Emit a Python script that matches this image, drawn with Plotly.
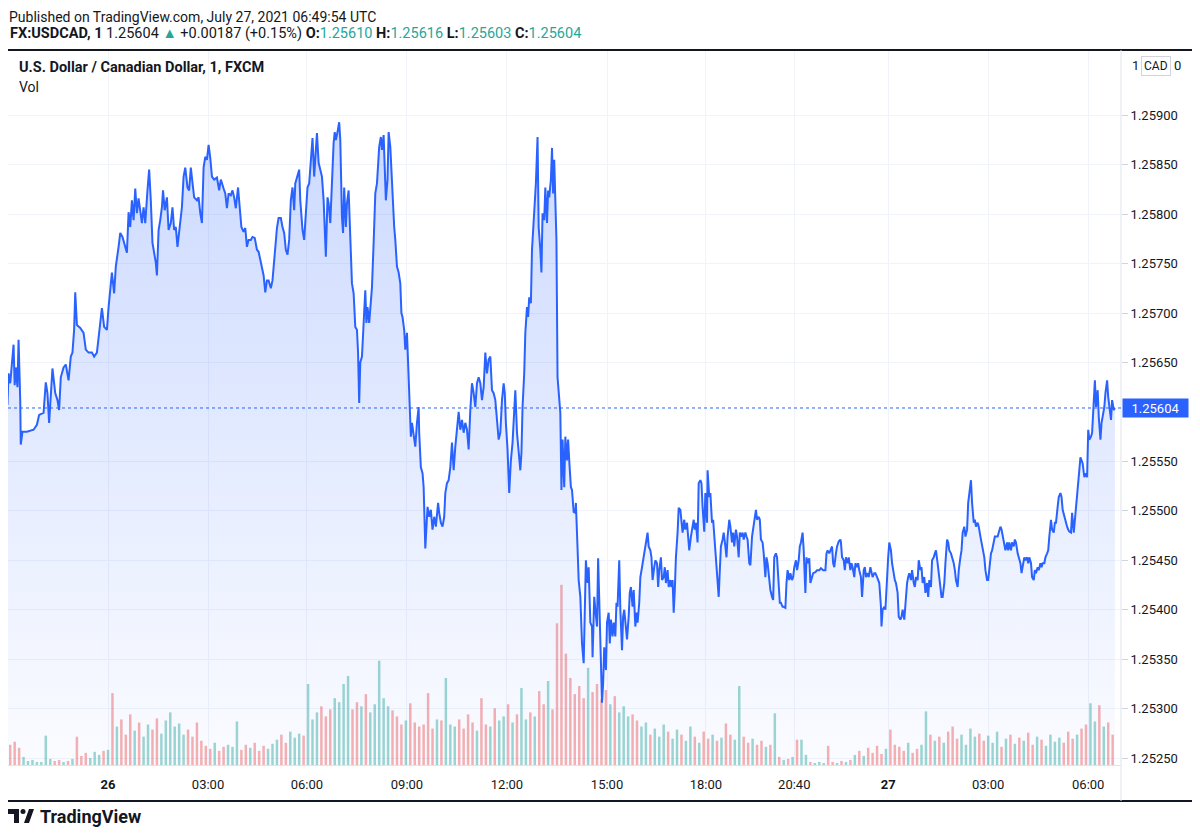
import numpy as np
import plotly.graph_objects as go

# ── Colours (TradingView light theme) ─────────────────────────────
LINE_BLUE = "#2962FF"
TEXT = "#131722"
GRID = "#f0f3fa"
AXIS = "#e0e3eb"
UP = "rgba(38,166,154,0.45)"
DOWN = "rgba(239,83,80,0.45)"
TEAL = "#26a69a"

# ── Data: 1-minute USDCAD, bar index = minutes from 26 Jul 00:00 ───
price_bar = [
    -181, -179, -176, -173, -170, -168, -166, -163, -161, -158,
    -157, -154, -146, -134, -128, -124, -116, -112, -109, -106,
    -103, -100, -95, -91, -88, -85, -80, -76, -71, -67,
    -64, -61, -59, -56, -50, -44, -40, -35, -29, -25,
    -20, -16, -11, -7, -2, 1, 4, 7, 11, 14,
    19, 22, 26, 31, 34, 37, 40, 43, 46, 49,
    52, 55, 58, 61, 64, 67, 71, 74, 77, 80,
    83, 86, 88, 91, 94, 97, 99, 102, 106, 109,
    113, 116, 119, 122, 125, 128, 133, 136, 139, 143,
    146, 149, 152, 155, 160, 163, 166, 169, 172, 175,
    178, 181, 184, 187, 191, 196, 200, 203, 208, 211,
    214, 217, 221, 224, 227, 230, 234, 236, 240, 244,
    247, 250, 253, 257, 260, 264, 268, 271, 274, 277,
    280, 283, 286, 289, 293, 296, 300, 304, 307, 311,
    314, 317, 320, 323, 326, 329, 332, 335, 337, 341,
    344,
    346, 350, 353, 356, 359, 362, 366, 368, 371, 373,
    376, 379, 382, 385, 388, 390, 392, 395, 397, 400,
    403, 406, 408, 410, 413, 416, 418, 421, 423, 425,
    428, 430, 433, 436, 439, 442, 445, 448, 450, 452,
    454, 457, 460, 463, 465, 467, 470, 473, 475, 478,
    481, 484, 486, 488, 491, 493, 496, 498, 500, 503,
    505, 508, 510, 512, 515, 517, 520, 523, 526, 528,
    530, 533, 535, 538, 540, 542, 545, 547, 550, 553,
    556, 559, 560, 563, 566, 568, 571, 573, 575, 578,
    581, 584, 587, 590, 594, 596, 599, 602, 605, 607,
    610, 613, 616, 619, 622, 625, 628, 631, 634, 637,
    640, 643, 646, 649, 652, 655, 658, 661, 664, 667,
    670, 673, 676, 679, 682, 685, 688, 691, 694, 697,
    700, 703, 706, 709, 712, 714, 716, 719, 722, 725,
    728, 731, 733, 736, 739, 742, 744, 746, 749, 751,
    754, 756, 758, 761, 763, 766, 768, 770, 773, 775,
    778, 780, 782, 785, 787, 790, 792, 794, 797, 799,
    801, 803, 805, 807, 809, 811, 814, 816, 818, 821,
    823, 826, 828, 830, 833, 835, 838, 841, 842, 845,
    847, 850, 853, 856, 858, 860, 863, 865, 868, 871,
    872, 875, 877, 880, 882, 884, 887, 889, 891, 893,
    896, 898, 901, 903, 905, 908, 910, 913, 915, 917,
    920, 922, 925, 927, 929, 932, 934, 937, 939, 941,
    944, 946, 949, 951, 953, 956, 958, 961, 963, 966,
    968, 971, 973, 976, 978, 980, 983, 985, 988, 990,
    992, 995, 997, 1000, 1002, 1004, 1007, 1009, 1012, 1014,
    1016, 1018, 1020, 1022, 1025, 1027, 1030, 1032, 1034, 1037,
    1039, 1042, 1044, 1046, 1049, 1051, 1054, 1056, 1058, 1061,
    1063, 1066, 1068, 1070, 1073, 1075, 1078, 1079, 1082, 1084,
    1087, 1089, 1091, 1094, 1096, 1099, 1101, 1103, 1106, 1108,
    1111, 1113, 1115, 1118, 1120, 1123, 1125, 1127, 1130, 1132,
    1135, 1137, 1139, 1142, 1144, 1147, 1149, 1151, 1154, 1156,
    1159, 1161, 1163, 1166, 1168, 1171, 1173, 1175, 1178, 1180,
    1183, 1185, 1187, 1190, 1192, 1195, 1197, 1199, 1202, 1204,
    1207, 1209, 1211, 1214, 1216, 1219, 1221, 1223, 1226, 1228,
    1231, 1233, 1235, 1238, 1240, 1243, 1245, 1247, 1250, 1252,
    1255, 1257, 1259, 1262, 1264, 1267, 1269, 1273, 1276, 1280,
    1283, 1287, 1291, 1293, 1295, 1298, 1300, 1303, 1305, 1307,
    1310, 1312, 1315, 1318,
    1319, 1321, 1324, 1326, 1328, 1331, 1333, 1336, 1338, 1340,
    1343, 1345, 1348, 1350, 1352, 1355, 1357, 1360, 1362, 1364,
    1367, 1369, 1372, 1374, 1376, 1379, 1381, 1384, 1386, 1388,
    1391, 1392, 1394, 1397, 1399, 1402, 1404, 1406, 1409, 1411,
    1414, 1416, 1418, 1421, 1423, 1426, 1428, 1430, 1433, 1435,
    1438, 1440, 1442, 1445, 1447, 1450, 1452, 1454, 1457, 1459,
    1462, 1464, 1466, 1469, 1471, 1474, 1476, 1478, 1481, 1483,
    1486, 1488, 1490, 1493, 1495, 1498, 1500, 1502, 1505, 1507,
    1510, 1512, 1514, 1517, 1519, 1522, 1524, 1526, 1529, 1531,
    1534, 1536, 1538, 1541, 1543, 1546, 1548, 1550, 1553, 1555,
    1558, 1560, 1562, 1565, 1567, 1570, 1572, 1574, 1577, 1579,
    1582, 1584, 1586, 1589, 1591, 1594, 1596, 1598, 1601, 1603,
    1606, 1608, 1610, 1613, 1615, 1618, 1620, 1622, 1625, 1627,
    1630, 1632, 1634, 1637, 1639, 1642, 1644, 1646, 1649, 1651,
    1654, 1656, 1658, 1661, 1663, 1666, 1668, 1670, 1673, 1675,
    1678, 1680, 1682, 1685, 1687, 1690, 1692, 1694, 1697, 1699,
    1702, 1704, 1706, 1709, 1711, 1714, 1716, 1718, 1721, 1723,
    1726, 1728, 1730, 1733, 1735, 1738, 1740, 1742, 1745, 1747,
    1750, 1752, 1754, 1757, 1759, 1762, 1764, 1766, 1769, 1771,
    1774, 1776, 1778, 1781, 1783, 1786, 1788, 1790, 1793, 1795,
    1798, 1800, 1802, 1805, 1807, 1810, 1812,
]

price_close = [
    1.25607, 1.25639, 1.25629, 1.25645, 1.25668, 1.25627, 1.25645, 1.25625, 1.25673, 1.25612,
    1.25567, 1.25580, 1.25580, 1.25582, 1.25587, 1.25597, 1.25599, 1.25630, 1.25619, 1.25589,
    1.25619, 1.25644, 1.25619, 1.25612, 1.25602, 1.25635, 1.25645, 1.25648, 1.25632, 1.25656,
    1.25660, 1.25683, 1.25721, 1.25688, 1.25685, 1.25680, 1.25663, 1.25660, 1.25660, 1.25656,
    1.25660, 1.25683, 1.25705, 1.25686, 1.25683, 1.25706, 1.25726, 1.25741, 1.25720, 1.25747,
    1.25767, 1.25781, 1.25777, 1.25767, 1.25761, 1.25802, 1.25787, 1.25814, 1.25794, 1.25826,
    1.25801, 1.25816, 1.25801, 1.25791, 1.25807, 1.25791, 1.25824, 1.25845, 1.25814, 1.25771,
    1.25761, 1.25751, 1.25738, 1.25784, 1.25794, 1.25807, 1.25824, 1.25804, 1.25817, 1.25784,
    1.25791, 1.25807, 1.25784, 1.25787, 1.25767, 1.25781, 1.25807, 1.25838, 1.25847, 1.25827,
    1.25824, 1.25847, 1.25831, 1.25817, 1.25814, 1.25817, 1.25801, 1.25791, 1.25847, 1.25858,
    1.25855, 1.25870, 1.25857, 1.25838, 1.25835, 1.25837, 1.25824, 1.25835, 1.25826, 1.25821,
    1.25806, 1.25821, 1.25819, 1.25824, 1.25817, 1.25806, 1.25827, 1.25814, 1.25787, 1.25782,
    1.25786, 1.25767, 1.25774, 1.25774, 1.25777, 1.25776, 1.25764, 1.25762, 1.25754, 1.25744,
    1.25738, 1.25721, 1.25733, 1.25733, 1.25725, 1.25733, 1.25764, 1.25786, 1.25796, 1.25796,
    1.25787, 1.25781, 1.25764, 1.25759, 1.25774, 1.25814, 1.25827, 1.25804, 1.25831, 1.25838,
    1.25845,
    1.25814, 1.25784, 1.25774, 1.25801, 1.25827, 1.25831, 1.25865, 1.25877, 1.25838, 1.25855,
    1.25882, 1.25852, 1.25845, 1.25838, 1.25814, 1.25781, 1.25757, 1.25817, 1.25811, 1.25791,
    1.25838, 1.25872, 1.25883, 1.25875, 1.25883, 1.25893, 1.25875, 1.25797, 1.25781, 1.25827,
    1.25787, 1.25811, 1.25824, 1.25767, 1.25730, 1.25720, 1.25686, 1.25683, 1.25660, 1.25609,
    1.25650, 1.25656, 1.25696, 1.25723, 1.25690, 1.25706, 1.25690, 1.25716, 1.25726, 1.25771,
    1.25821, 1.25831, 1.25855, 1.25868, 1.25878, 1.25865, 1.25880, 1.25842, 1.25814, 1.25835,
    1.25883, 1.25868, 1.25842, 1.25814, 1.25787, 1.25774, 1.25747, 1.25741, 1.25730, 1.25700,
    1.25696, 1.25683, 1.25663, 1.25680, 1.25653, 1.25612, 1.25575, 1.25589, 1.25575, 1.25565,
    1.25589, 1.25605, 1.25579, 1.25544, 1.25538, 1.25524, 1.25462, 1.25488, 1.25504, 1.25494,
    1.25501, 1.25481, 1.25494, 1.25484, 1.25508, 1.25498, 1.25488, 1.25484, 1.25494, 1.25518,
    1.25528, 1.25531, 1.25544, 1.25569, 1.25541, 1.25565, 1.25582, 1.25600, 1.25582, 1.25592,
    1.25579, 1.25589, 1.25582, 1.25562, 1.25602, 1.25629, 1.25619, 1.25605, 1.25629, 1.25635,
    1.25629, 1.25612, 1.25625, 1.25660, 1.25639, 1.25653, 1.25656, 1.25622, 1.25619, 1.25612,
    1.25592, 1.25572, 1.25579, 1.25612, 1.25629, 1.25619, 1.25589, 1.25562, 1.25518, 1.25551,
    1.25569, 1.25595, 1.25622, 1.25579, 1.25559, 1.25541, 1.25559, 1.25605, 1.25639, 1.25680,
    1.25706, 1.25696, 1.25716, 1.25710, 1.25764, 1.25794, 1.25801, 1.25831, 1.25878, 1.25787,
    1.25764, 1.25741, 1.25801, 1.25794, 1.25827, 1.25791, 1.25824, 1.25817, 1.25835, 1.25867,
    1.25821, 1.25855, 1.25814, 1.25774, 1.25635, 1.25622, 1.25599, 1.25521, 1.25572, 1.25524,
    1.25575, 1.25551, 1.25572, 1.25551, 1.25524, 1.25521, 1.25499, 1.25498, 1.25508, 1.25462,
    1.25430, 1.25413, 1.25366, 1.25346, 1.25393, 1.25450, 1.25427, 1.25443, 1.25387, 1.25383,
    1.25352, 1.25413, 1.25400, 1.25383, 1.25452, 1.25407, 1.25359, 1.25306, 1.25326, 1.25362,
    1.25339, 1.25387, 1.25397, 1.25366, 1.25390, 1.25373, 1.25387, 1.25373, 1.25407, 1.25403,
    1.25450, 1.25400, 1.25359, 1.25393, 1.25400, 1.25383, 1.25370, 1.25393, 1.25417, 1.25423,
    1.25403, 1.25420, 1.25383, 1.25397, 1.25387, 1.25407, 1.25433, 1.25443, 1.25450, 1.25457,
    1.25468, 1.25478, 1.25464, 1.25460, 1.25453, 1.25430, 1.25443, 1.25450, 1.25447, 1.25423,
    1.25440, 1.25453, 1.25430, 1.25433, 1.25443, 1.25427, 1.25440, 1.25423, 1.25430, 1.25423,
    1.25430, 1.25397, 1.25420, 1.25453, 1.25478, 1.25503, 1.25501, 1.25488, 1.25478, 1.25491,
    1.25481, 1.25488, 1.25468, 1.25460, 1.25474, 1.25481, 1.25491, 1.25481, 1.25488, 1.25468,
    1.25528, 1.25531, 1.25528, 1.25504, 1.25479, 1.25518, 1.25488, 1.25541, 1.25514, 1.25518,
    1.25488, 1.25491, 1.25474, 1.25453, 1.25433, 1.25413, 1.25440, 1.25464, 1.25471, 1.25478,
    1.25464, 1.25453, 1.25474, 1.25491, 1.25484, 1.25468, 1.25478, 1.25464, 1.25481, 1.25474,
    1.25453, 1.25478, 1.25474, 1.25478, 1.25471, 1.25478, 1.25474, 1.25471, 1.25447, 1.25445,
    1.25474, 1.25481, 1.25491, 1.25501, 1.25491, 1.25494, 1.25491, 1.25471, 1.25468, 1.25457,
    1.25433, 1.25453, 1.25447, 1.25430, 1.25420, 1.25413, 1.25410, 1.25453, 1.25457, 1.25453,
    1.25420, 1.25407, 1.25407, 1.25403, 1.25403, 1.25402, 1.25427, 1.25440, 1.25430, 1.25437,
    1.25430, 1.25433, 1.25443, 1.25450, 1.25440, 1.25450, 1.25464, 1.25468, 1.25478, 1.25460,
    1.25417, 1.25453, 1.25447, 1.25452, 1.25427, 1.25433, 1.25437, 1.25438, 1.25440, 1.25440,
    1.25442, 1.25440, 1.25440, 1.25457, 1.25460, 1.25457, 1.25460, 1.25464, 1.25447, 1.25443,
    1.25457, 1.25464, 1.25469, 1.25471,
    1.25468, 1.25453, 1.25450, 1.25440, 1.25453, 1.25447, 1.25453, 1.25440, 1.25447, 1.25443,
    1.25433, 1.25447, 1.25443, 1.25447, 1.25440, 1.25433, 1.25413, 1.25440, 1.25443, 1.25433,
    1.25437, 1.25433, 1.25443, 1.25437, 1.25433, 1.25437, 1.25437, 1.25433, 1.25430, 1.25427,
    1.25403, 1.25383, 1.25400, 1.25403, 1.25400, 1.25437, 1.25453, 1.25468, 1.25460, 1.25447,
    1.25433, 1.25430, 1.25427, 1.25417, 1.25393, 1.25390, 1.25393, 1.25400, 1.25390, 1.25407,
    1.25427, 1.25433, 1.25437, 1.25430, 1.25440, 1.25427, 1.25423, 1.25433, 1.25430, 1.25450,
    1.25440, 1.25443, 1.25427, 1.25433, 1.25417, 1.25427, 1.25413, 1.25430, 1.25423, 1.25450,
    1.25453, 1.25457, 1.25460, 1.25447, 1.25437, 1.25427, 1.25413, 1.25413, 1.25427, 1.25447,
    1.25471, 1.25468, 1.25460, 1.25457, 1.25453, 1.25447, 1.25440, 1.25430, 1.25423, 1.25440,
    1.25453, 1.25460, 1.25478, 1.25484, 1.25474, 1.25481, 1.25508, 1.25518, 1.25531, 1.25508,
    1.25488, 1.25491, 1.25484, 1.25488, 1.25484, 1.25474, 1.25468, 1.25464, 1.25453, 1.25440,
    1.25430, 1.25430, 1.25443, 1.25457, 1.25460, 1.25468, 1.25474, 1.25474, 1.25474, 1.25478,
    1.25484, 1.25481, 1.25474, 1.25468, 1.25460, 1.25468, 1.25460, 1.25468, 1.25460, 1.25468,
    1.25464, 1.25471, 1.25468, 1.25457, 1.25453, 1.25447, 1.25437, 1.25443, 1.25453, 1.25450,
    1.25453, 1.25447, 1.25453, 1.25447, 1.25433, 1.25430, 1.25440, 1.25437, 1.25443, 1.25440,
    1.25447, 1.25443, 1.25447, 1.25447, 1.25453, 1.25457, 1.25460, 1.25474, 1.25491, 1.25481,
    1.25478, 1.25488, 1.25488, 1.25504, 1.25514, 1.25518, 1.25514, 1.25501, 1.25494, 1.25488,
    1.25484, 1.25481, 1.25479, 1.25478, 1.25498, 1.25478, 1.25491, 1.25501, 1.25524, 1.25534,
    1.25554, 1.25551, 1.25548, 1.25534, 1.25538, 1.25534, 1.25582, 1.25572, 1.25575, 1.25579,
    1.25605, 1.25632, 1.25605, 1.25622, 1.25595, 1.25572, 1.25589, 1.25595, 1.25605, 1.25619,
    1.25632, 1.25615, 1.25605, 1.25592, 1.25612, 1.25602, 1.25604,
]

# tick volume, one bar every 8 minutes from bar -176
vol_start = -176
vol_step = 8
volume = [
    20, 23, 17, 8, 4, 5, 3, 3, 29, 6,
    4, 5, 3, 4, 6, 28, 9, 12, 7, 13,
    10, 14, 15, 71, 38, 45, 30, 50, 34, 42,
    28, 40, 35, 46, 31, 44, 52, 38, 41, 30,
    35, 28, 42, 24, 19, 16, 22, 14, 18, 20,
    18, 43, 15, 20, 17, 22, 14, 19, 16, 21,
    25, 30, 22, 33, 27, 31, 29, 80, 45, 52,
    58, 48, 55, 66, 62, 80, 88, 55, 62, 58,
    70, 52, 60, 103, 66, 58, 54, 48, 40, 44,
    61, 42, 38, 40, 71, 36, 45, 44, 86, 40,
    38, 45, 36, 50, 42, 34, 66, 40, 38, 56,
    44, 48, 60, 42, 50, 76, 45, 52, 48, 73,
    60, 83, 55, 140, 178, 110, 86, 70, 78, 66,
    96, 72, 80, 65, 74, 60, 68, 52, 58, 48,
    50, 44, 38, 42, 30, 36, 28, 40, 33, 26,
    35, 30, 24, 38, 28, 22, 33, 26, 30, 24,
    27, 41, 30, 25, 78, 28, 22, 26, 20, 24,
    18, 20, 51, 8, 5, 6, 8, 25, 25, 10,
    3, 2, 3, 2, 19, 3, 2, 4, 3, 5,
    10, 14, 9, 17, 12, 19, 11, 16, 35, 20,
    18, 14, 22, 12, 16, 20, 53, 30, 24, 28,
    22, 33, 38, 26, 30, 20, 36, 28, 31, 24,
    29, 22, 33, 18, 26, 30, 21, 27, 24, 32,
    20, 28, 25, 19, 30, 23, 27, 22, 33, 26,
    30, 36, 40, 61, 43, 59, 38, 42, 30,
]

tick_bars = [0, 180, 358, 538, 718, 898, 1076, 1235, 1404, 1584, 1764]
tick_text = ["<b>26</b>", "03:00", "06:00", "09:00", "12:00", "15:00",
             "18:00", "20:40", "<b>27</b>", "03:00", "06:00"]

# price scale labels (1.25600 sits under the last-price tag, 1.25950 under the CAD badge)
price_ticks = [1.2525, 1.2530, 1.2535, 1.2540, 1.2545, 1.2550, 1.2555,
               1.2565, 1.2570, 1.2575, 1.2580, 1.2585, 1.2590]

last_price = 1.25604
x_range = [-180, 1823]
price_range = [1.25243, 1.25966]

# ── Page geometry (reference pixels; the page body adds an 8px offset) ─
OFF = 8
W, H = 1200 - OFF, 837 - 2 * OFF
L, R, T, B = 8 - OFF, 1200 - 1121, 50 - OFF, (837 - 765) - OFF
PW, PH = W - L - R, H - T - B


def px(x):
    return (x - OFF - L) / PW


def py(y):
    return (H - B - (y - OFF)) / PH


# volume colours follow the price move into each bar
vol_x = vol_start + vol_step * np.arange(len(volume))
pb = np.array(price_bar)
pc = np.array(price_close)
idx = np.clip(np.searchsorted(pb, vol_x), 1, len(pb) - 1)
vol_colors = [UP if pc[i] >= pc[i - 1] else DOWN for i in idx]

fig = go.Figure()

fig.add_trace(go.Bar(
    x=vol_x, y=volume, width=4.5,
    marker=dict(color=vol_colors, line=dict(width=0)),
    hoverinfo="skip", showlegend=False,
))

# baseline for the area fill
fig.add_trace(go.Scatter(
    x=[price_bar[0], price_bar[-1]], y=[price_range[0]] * 2,
    mode="lines", line=dict(width=0), yaxis="y2",
    hoverinfo="skip", showlegend=False,
))

fig.add_trace(go.Scatter(
    x=price_bar, y=price_close, mode="lines", yaxis="y2",
    line=dict(color=LINE_BLUE, width=2),
    fill="tonexty",
    fillgradient=dict(
        type="vertical",
        colorscale=[[0, "rgba(41,98,255,0.02)"], [1, "rgba(41,98,255,0.24)"]],
        start=price_range[0], stop=1.2590,
    ),
    showlegend=False,
))

annotations = [
    dict(x=px(8), y=py(8), xref="paper", yref="paper", xanchor="left", yanchor="top",
         showarrow=False, borderpad=0,
         text="Published on TradingView.com, July 27, 2021 06:49:54 UTC",
         font=dict(size=14, color=TEXT)),
    dict(x=px(8), y=py(34), xref="paper", yref="paper", xanchor="left", yanchor="middle",
         showarrow=False,
         text=(f"<b>FX:USDCAD, 1</b> 1.25604 <span style='color:{TEAL}'>▲</span> +0.00187 (+0.15%) "
               f"<b>O:</b><span style='color:{TEAL}'>1.25610</span> "
               f"<b>H:</b><span style='color:{TEAL}'>1.25616</span> "
               f"<b>L:</b><span style='color:{TEAL}'>1.25603</span> "
               f"<b>C:</b><span style='color:{TEAL}'>1.25604</span>"),
         font=dict(size=14.5, color=TEXT)),
    dict(x=px(17), y=py(68), xref="paper", yref="paper", xanchor="left", yanchor="middle",
         showarrow=False, text="<b>U.S. Dollar / Canadian Dollar, 1, FXCM</b>",
         font=dict(size=14.5, color=TEXT)),
    dict(x=px(17), y=py(87), xref="paper", yref="paper", xanchor="left", yanchor="middle",
         showarrow=False, text="Vol", font=dict(size=14, color=TEXT)),
    # top of the price scale: "1 [CAD] 0"
    dict(x=px(1131), y=1.2595, xref="paper", yref="y2", xanchor="left", yanchor="middle",
         showarrow=False, text="1", borderpad=0, font=dict(size=13, color=TEXT)),
    dict(x=px(1156), y=1.2595, xref="paper", yref="y2", xanchor="center", yanchor="middle",
         showarrow=False, text="CAD", bgcolor="white", bordercolor="#d1d4dc",
         borderwidth=1, borderpad=2, font=dict(size=12, color=TEXT)),
    dict(x=px(1173), y=1.2595, xref="paper", yref="y2", xanchor="left", yanchor="middle",
         showarrow=False, text="0", borderpad=0, font=dict(size=13, color=TEXT)),
    dict(x=px(1122), y=last_price, xref="paper", yref="y2", xanchor="left", yanchor="middle",
         showarrow=False, text="1.25604", bgcolor=LINE_BLUE, width=63, height=16,
         borderpad=1, font=dict(size=13, color="white")),
    dict(x=px(38), y=py(816), xref="paper", yref="paper", xanchor="left", yanchor="middle",
         showarrow=False, text="<b>TradingView</b>", font=dict(size=18, color=TEXT)),
]


def path(points):
    return "M " + " L ".join(f"{px(a)},{py(b)}" for a, b in points) + " Z"


shapes = [
    # outer frame
    dict(type="rect", xref="paper", yref="paper", x0=px(7), x1=px(1195), y0=py(801), y1=py(50),
         line=dict(color=TEXT, width=2), layer="above"),
    # price scale separator
    dict(type="line", xref="paper", yref="paper", x0=1, x1=1, y0=py(801), y1=py(50),
         line=dict(color=AXIS, width=1)),
    # last price dotted line
    dict(type="line", xref="paper", yref="y2", x0=0, x1=1, y0=last_price, y1=last_price,
         line=dict(color=LINE_BLUE, width=1, dash="dot")),
    # TradingView logo
    dict(type="path", xref="paper", yref="paper", line=dict(width=0), fillcolor=TEXT,
         path=path([(8, 809), (19, 809), (19, 823), (14, 823), (14, 814), (8, 814)])),
    dict(type="circle", xref="paper", yref="paper", line=dict(width=0), fillcolor=TEXT,
         x0=px(20.5), x1=px(25.5), y0=py(814), y1=py(809)),
    dict(type="path", xref="paper", yref="paper", line=dict(width=0), fillcolor=TEXT,
         path=path([(24, 823), (29, 809), (34, 809), (29, 823)])),
]

fig.update_layout(
    width=W, height=H,
    margin=dict(l=L, r=R, t=T, b=B, pad=0),
    paper_bgcolor="white", plot_bgcolor="white",
    font=dict(family="Roboto, Arial, sans-serif", color=TEXT),
    showlegend=False, hovermode=False,
    xaxis=dict(
        range=x_range, tickvals=tick_bars, ticktext=tick_text,
        showgrid=True, gridcolor=GRID, zeroline=False,
        showline=True, linecolor=AXIS, linewidth=1,
        ticks="outside", ticklen=7, tickcolor="rgba(0,0,0,0)",
        tickfont=dict(size=13, color=TEXT),
    ),
    yaxis=dict(range=[0, max(volume) / 0.252], visible=False, showgrid=False, zeroline=False),
    yaxis2=dict(
        overlaying="y", side="right", range=price_range,
        tickvals=price_ticks, ticktext=[f"{v:.5f}" for v in price_ticks],
        showgrid=True, gridcolor=GRID, zeroline=False,
        showline=False,
        ticks="outside", ticklen=6, tickcolor="#d1d4dc",
        tickfont=dict(size=13, color=TEXT),
    ),
    annotations=annotations,
    shapes=shapes,
)

fig.write_html("out.html")
